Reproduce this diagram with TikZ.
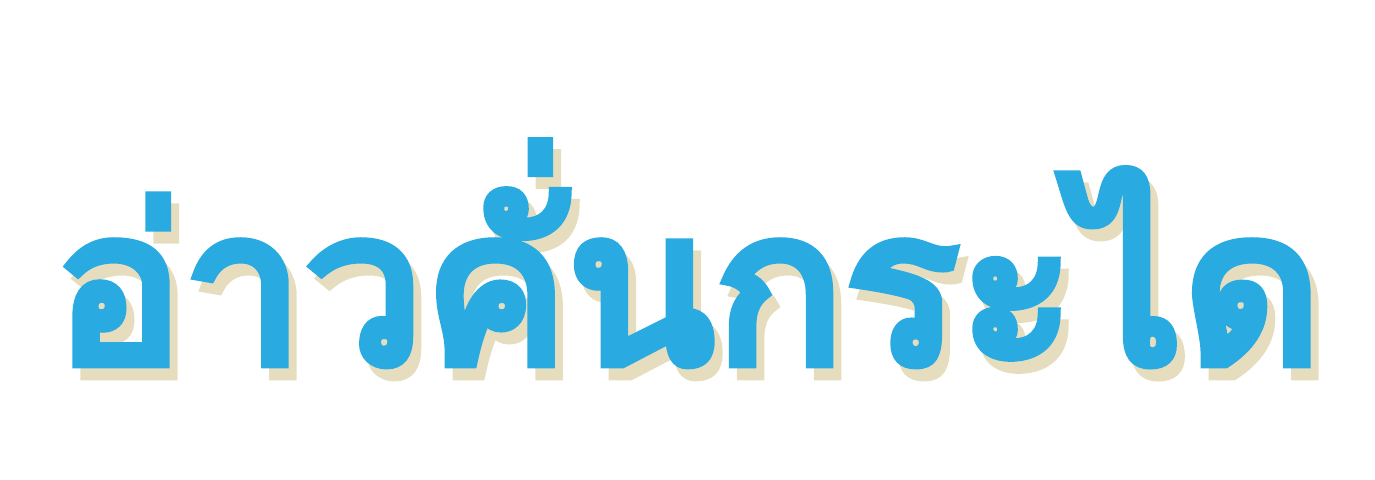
\documentclass[tikz,border=0pt]{standalone}
\usepackage{fontspec}
\newfontfamily\thaifont[Script=Thai,FakeBold=5]{Loma}
\definecolor{skyblue}{HTML}{29ABE2}
\definecolor{sandshadow}{HTML}{E6DDBE}

\begin{document}
\begin{tikzpicture}[x=0.01cm,y=0.01cm,
  title/.style={inner sep=0pt, anchor=base, font=\thaifont\fontsize{61}{61}\selectfont}]

\useasboundingbox (0,0) rectangle (1375,480);

\node[title, text=sandshadow] (shadow) at (696,105) {อ่าวคั่นกระได};
\node[title, text=skyblue] (title) at (688,117) {อ่าวคั่นกระได};
\end{tikzpicture}
\end{document}
